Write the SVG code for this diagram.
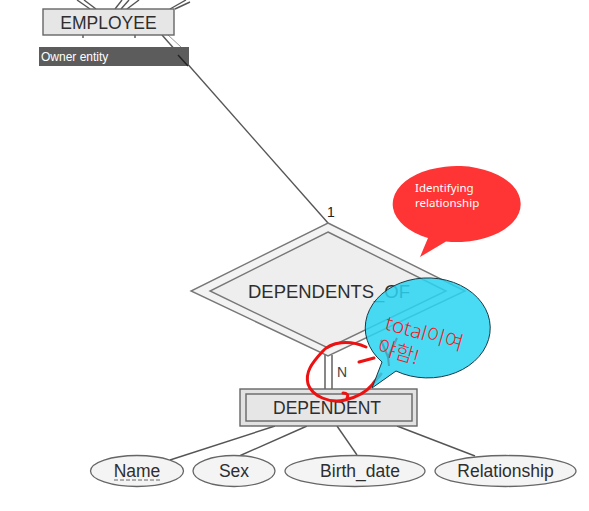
<svg xmlns="http://www.w3.org/2000/svg" width="589" height="511" viewBox="0 0 589 511">
<defs>
<style>
.ln{stroke:#555;stroke-width:1.4;fill:none}
.box{fill:#e6e6e6;stroke:#666;stroke-width:1.4}
.lbl{font-family:"Liberation Sans",Arial,sans-serif;font-size:17.5px;fill:#2e2e2e;text-anchor:middle}
.attr{fill:#f4f4f4;stroke:#666;stroke-width:1.3}
.red{stroke:#ee1111;stroke-width:3;fill:none;stroke-linecap:round}
.note{font-family:"Noto Sans","Noto Sans CJK KR",sans-serif;fill:#fff;font-size:11.5px}
</style>
</defs>
<rect width="589" height="511" fill="#ffffff"/>
<g id="connectors">
<line class="ln" x1="77" y1="0" x2="90" y2="9"/>
<line class="ln" x1="84" y1="0" x2="96" y2="9"/>
<line class="ln" x1="122" y1="0" x2="115" y2="9"/>
<line class="ln" x1="129" y1="0" x2="121" y2="9"/>
<line class="ln" x1="139" y1="0" x2="127" y2="9"/>
<line class="ln" x1="186" y1="0" x2="170" y2="9"/>
<line class="ln" x1="190" y1="2" x2="175" y2="9"/>
<line class="ln" x1="83" y1="35" x2="83" y2="38"/>
<line class="ln" x1="135" y1="35" x2="135" y2="38"/>
<line class="ln" x1="162" y1="35" x2="328" y2="223"/>
<line x1="168" y1="35" x2="181" y2="47" stroke="#999" stroke-width="1"/>
<line class="ln" x1="325" y1="355" x2="325" y2="389"/>
<line class="ln" x1="332" y1="355" x2="332" y2="389"/>
<line class="ln" x1="275" y1="426" x2="170" y2="460"/>
<line class="ln" x1="307" y1="426" x2="237" y2="457"/>
<line class="ln" x1="337" y1="426" x2="357" y2="455"/>
<line class="ln" x1="397" y1="426" x2="475" y2="456"/>
</g>
<g id="employee">
<rect class="box" x="43" y="9" width="131" height="26"/>
<text class="lbl" x="108.5" y="28.5">EMPLOYEE</text>
</g>
<g id="owner-label">
<rect x="39" y="47" width="150" height="19" fill="#5c5c5c"/>
<line x1="178" y1="55" x2="188" y2="66" stroke="#222" stroke-width="1.4"/>
<text x="41" y="60.5" font-family="'Liberation Sans',Arial,sans-serif" font-size="12" fill="#fff">Owner entity</text>
</g>
<g id="dependents-of">
<polygon points="328,223 465,291 328,356 191,291" fill="#f3f3f3" stroke="#777" stroke-width="1.4"/>
<polygon points="328,232 446,291 328,348 210,291" fill="#eeeeee" stroke="#777" stroke-width="1.4"/>
<text class="lbl" x="329" y="298" font-size="18" textLength="162" lengthAdjust="spacingAndGlyphs">DEPENDENTS_OF</text>
<text x="331" y="217" font-family="'Liberation Sans',Arial,sans-serif" font-size="14" fill="#222" text-anchor="middle">1</text>
<text x="342" y="377" font-family="'Liberation Sans',Arial,sans-serif" font-size="14" fill="#444" text-anchor="middle">N</text>
</g>
<g id="dependent">
<rect x="240" y="389" width="177" height="37" fill="#e2e2e2" stroke="#666" stroke-width="1.4"/>
<rect x="246" y="394" width="166" height="27" fill="#e6e6e6" stroke="#666" stroke-width="1.4"/>
<text class="lbl" x="327" y="413.5">DEPENDENT</text>
</g>
<g id="attr-name">
<ellipse class="attr" cx="137" cy="471" rx="46.5" ry="15.5"/>
<text class="lbl" x="137" y="477">Name</text>
<line x1="114" y1="480" x2="160" y2="480" stroke="#666" stroke-width="1" stroke-dasharray="4,2"/>
</g>
<g id="attr-sex">
<ellipse class="attr" cx="234" cy="471" rx="41" ry="15.5"/>
<text class="lbl" x="234" y="477">Sex</text>
</g>
<g id="attr-birth-date">
<ellipse class="attr" cx="355" cy="471" rx="70" ry="15.5"/>
<text class="lbl" x="360" y="477">Birth_date</text>
</g>
<g id="attr-relationship">
<ellipse class="attr" cx="505.5" cy="471" rx="70.5" ry="15.5"/>
<text class="lbl" x="505.5" y="477">Relationship</text>
</g>
<g id="red-annotation">
<path class="red" d="M366 347 C350 340 331 341 322 352 C312 363 305 372 308 384 C312 396 330 404 345 400 C358 397 367 391 372 385 C375 380 378 378 381 374"/>
<path class="red" d="M343 393 C347 393 349 395 347 398"/>
<path class="red" d="M359 362 L374 358"/>
</g>
<g id="identifying-callout">
<path d="M428 238 L420 257 L446 241.5 A64 38 0 1 0 428 238 Z" fill="#ff3535"/>
<text class="note" x="415" y="192">Identifying</text>
<text class="note" x="415" y="207">relationship</text>
</g>
<g id="total-callout">
<path d="M382 362 L372 388 L396 371 A62.5 50 0 1 0 382 362 Z" fill="#29d3f2" fill-opacity="0.85" stroke="#1b3a44" stroke-width="1"/>
<path d="M381 340 L388 357 M397 338 L388 357 L389 366" stroke="#4a8ea2" stroke-width="2" fill="none" opacity="0.7"/>
<g transform="rotate(16 384 329)" font-family="'Noto Sans','Noto Sans CJK KR',sans-serif" font-size="20" fill="#ee1c1c" font-weight="300">
<text x="384" y="329" textLength="80" lengthAdjust="spacingAndGlyphs">total이여</text>
<text x="383" y="354">야함!</text>
</g>
</g>
</svg>
